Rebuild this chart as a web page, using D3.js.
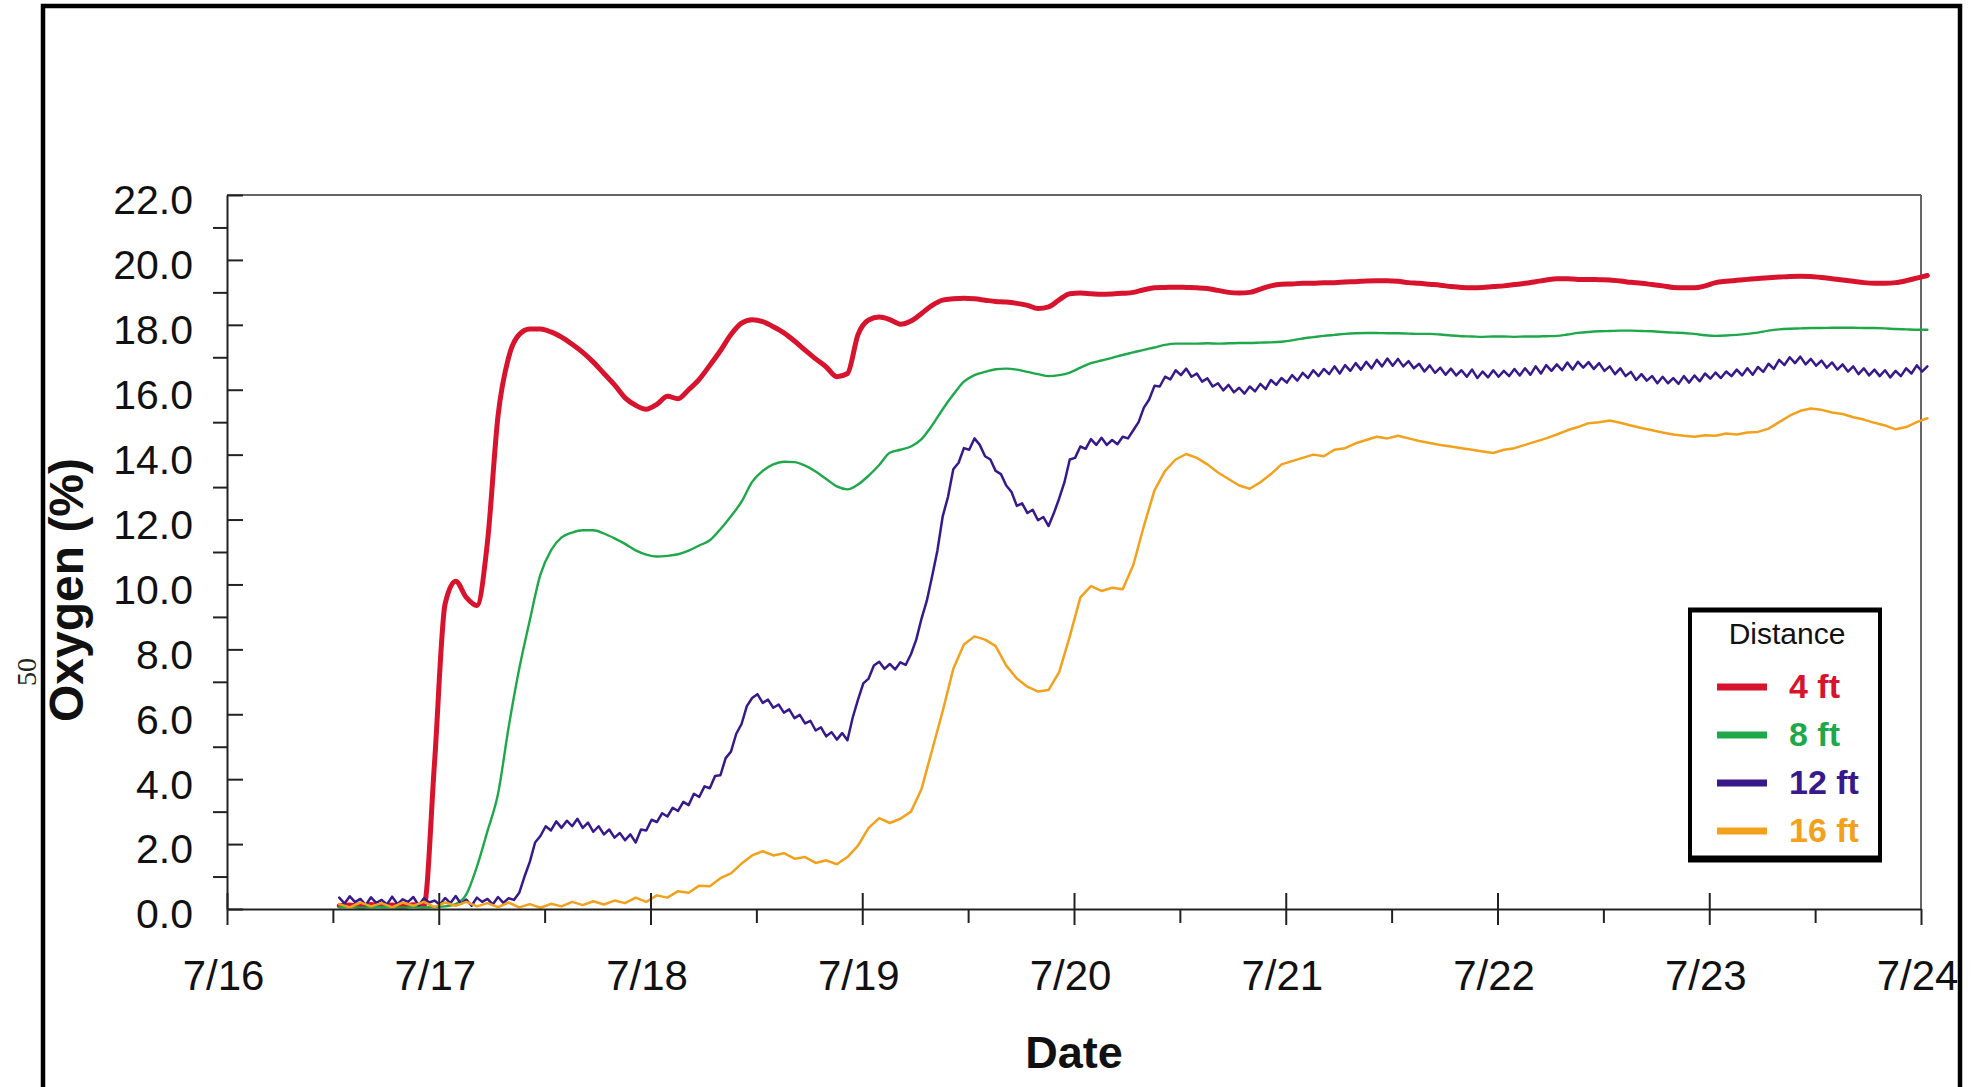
<!DOCTYPE html>
<html>
<head>
<meta charset="utf-8">
<script src="https://cdn.jsdelivr.net/npm/d3@7"></script>
<style>
  html, body { margin: 0; padding: 0; background: #fff; }
  svg { display: block; }
  text { font-family: "Liberation Sans", Arial, Helvetica, sans-serif; }
</style>
</head>
<body>
<svg id="chart" width="1976" height="1087"></svg>
<script>
// Oxygen concentration logged at four distances. Readings start 0.53 day
// after midnight of 7/16; the 12 ft probe was logged twice as often.
const dayLabels = ["7/16", "7/17", "7/18", "7/19", "7/20", "7/21", "7/22", "7/23", "7/24"];
const yMajorTicks = [0, 2, 4, 6, 8, 10, 12, 14, 16, 18, 20, 22];
const yMinorTicks = [1, 3, 5, 7, 9, 11, 13, 15, 17, 19, 21];
const xMinorTicks = [0.5, 1.5, 2.5, 3.5, 4.5, 5.5, 6.5, 7.5];
const firstReadingDay = 0.53;
const readingStepDays = [0.05, 0.05, 0.025, 0.05];

const distances = ["4 ft", "8 ft", "12 ft", "16 ft"];
const seriesColors = ["#d8132d", "#1fa84a", "#37198c", "#f3a11d"];

const o2At4ft = [
  0.10, 0.12, 0.08, 0.14, 0.10, 0.12, 0.08, 0.13, 0.10, 4.5,
  9.4, 10.1, 9.6, 9.35, 11.3, 15.2, 17.0, 17.7, 17.87, 17.87,
  17.78, 17.62, 17.4, 17.15, 16.85, 16.5, 16.15, 15.75, 15.52, 15.4,
  15.55, 15.8, 15.72, 16.0, 16.32, 16.75, 17.2, 17.7, 18.05, 18.16,
  18.1, 17.94, 17.75, 17.5, 17.22, 16.95, 16.7, 16.4, 16.5, 17.7,
  18.15, 18.24, 18.16, 18.02, 18.12, 18.35, 18.6, 18.76, 18.8, 18.82,
  18.8, 18.76, 18.72, 18.7, 18.66, 18.6, 18.5, 18.55, 18.77, 18.96,
  18.98, 18.96, 18.94, 18.95, 18.97, 19.0, 19.08, 19.14, 19.15, 19.16,
  19.15, 19.14, 19.12, 19.06, 19.0, 18.98, 19.0, 19.1, 19.2, 19.25,
  19.26, 19.28, 19.28, 19.3, 19.3, 19.32, 19.33, 19.35, 19.36, 19.36,
  19.34, 19.3, 19.28, 19.25, 19.22, 19.18, 19.15, 19.14, 19.15, 19.18,
  19.2, 19.24, 19.28, 19.33, 19.38, 19.42, 19.42, 19.4, 19.4, 19.39,
  19.38, 19.35, 19.31, 19.28, 19.24, 19.2, 19.15, 19.14, 19.14, 19.2,
  19.3, 19.34, 19.37, 19.4, 19.43, 19.45, 19.47, 19.49, 19.5, 19.49,
  19.46, 19.42, 19.38, 19.34, 19.3, 19.28, 19.28, 19.3, 19.36, 19.44,
  19.52
];

const o2At8ft = [
  0.05, 0.06, 0.04, 0.05, 0.06, 0.05, 0.04, 0.06, 0.05, 0.06,
  0.08, 0.15, 0.45, 1.3, 2.4, 3.55, 5.6, 7.4, 8.9, 10.3,
  11.05, 11.45, 11.6, 11.67, 11.67, 11.57, 11.42, 11.25, 11.05, 10.92,
  10.86, 10.88, 10.93, 11.04, 11.2, 11.36, 11.7, 12.1, 12.55, 13.16,
  13.5, 13.7, 13.78, 13.77, 13.66, 13.48, 13.25, 13.02, 12.93, 13.08,
  13.35, 13.68, 14.06, 14.15, 14.25, 14.48, 14.9, 15.4, 15.85, 16.25,
  16.45, 16.55, 16.63, 16.65, 16.62, 16.55, 16.48, 16.42, 16.45, 16.53,
  16.68, 16.82, 16.9, 16.98, 17.07, 17.15, 17.23, 17.3, 17.38, 17.42,
  17.42, 17.42, 17.43, 17.42, 17.43, 17.44, 17.44, 17.45, 17.46, 17.48,
  17.52, 17.58, 17.62, 17.66, 17.69, 17.72, 17.74, 17.75, 17.75, 17.74,
  17.74, 17.73, 17.72, 17.72, 17.7, 17.67, 17.65, 17.64, 17.63, 17.64,
  17.64, 17.63, 17.64, 17.64, 17.65, 17.66, 17.7, 17.75, 17.78, 17.8,
  17.81, 17.82, 17.82, 17.81, 17.8, 17.78, 17.76, 17.75, 17.72, 17.68,
  17.66, 17.67, 17.69, 17.72, 17.76, 17.82, 17.86, 17.88, 17.89, 17.9,
  17.9, 17.91, 17.91, 17.91, 17.9, 17.9, 17.89, 17.87, 17.86, 17.85,
  17.85
];

const o2At12ft = [
  0.35, 0.17, 0.39, 0.21, 0.31, 0.12, 0.36, 0.19, 0.28, 0.14,
  0.38, 0.15, 0.30, 0.22, 0.37, 0.11, 0.33, 0.20, 0.26, 0.13,
  0.34, 0.18, 0.40, 0.16, 0.29, 0.10, 0.35, 0.22, 0.31, 0.14,
  0.37, 0.19, 0.33, 0.28, 0.5, 1.0, 1.45, 2.05, 2.25, 2.55,
  2.42, 2.7, 2.5, 2.72, 2.55, 2.78, 2.5, 2.66, 2.38, 2.55,
  2.3, 2.45, 2.2, 2.34, 2.12, 2.3, 2.05, 2.45, 2.42, 2.75,
  2.68, 2.95, 2.85, 3.12, 3.02, 3.3, 3.2, 3.55, 3.45, 3.78,
  3.72, 4.1, 4.12, 4.65, 4.85, 5.4, 5.7, 6.25, 6.5, 6.62,
  6.35, 6.45, 6.2, 6.3, 6.05, 6.15, 5.88, 5.98, 5.72, 5.8,
  5.5, 5.6, 5.32, 5.45, 5.22, 5.42, 5.2, 5.9, 6.45, 6.95,
  7.1, 7.5, 7.62, 7.4, 7.55, 7.38, 7.6, 7.52, 7.85, 8.3,
  8.95, 9.5, 10.25, 11.05, 12.1, 12.7, 13.55, 13.75, 14.2, 14.15,
  14.5, 14.3, 13.95, 13.85, 13.5, 13.4, 13.05, 12.85, 12.42, 12.5,
  12.2, 12.3, 11.98, 12.08, 11.8, 12.2, 12.65, 13.15, 13.85, 13.9,
  14.25, 14.18, 14.48, 14.3, 14.52, 14.3, 14.45, 14.32, 14.55, 14.5,
  14.75, 15.0, 15.45, 15.7, 16.12, 16.1, 16.4, 16.32, 16.6, 16.45,
  16.65, 16.4, 16.5, 16.25, 16.35, 16.1, 16.2, 15.98, 16.15, 15.92,
  16.06, 15.88, 16.1, 15.95, 16.18, 16.02, 16.3, 16.15, 16.36, 16.22,
  16.45, 16.28, 16.52, 16.36, 16.6, 16.42, 16.64, 16.48, 16.72, 16.5,
  16.76, 16.58, 16.82, 16.62, 16.86, 16.66, 16.92, 16.72, 16.96, 16.74,
  16.95, 16.72, 16.88, 16.66, 16.8, 16.56, 16.75, 16.52, 16.68, 16.46,
  16.65, 16.44, 16.6, 16.4, 16.62, 16.36, 16.56, 16.38, 16.6, 16.4,
  16.58, 16.42, 16.64, 16.44, 16.66, 16.46, 16.72, 16.5, 16.76, 16.58,
  16.78, 16.6, 16.84, 16.62, 16.86, 16.68, 16.85, 16.64, 16.82, 16.58,
  16.72, 16.48, 16.66, 16.42, 16.55, 16.3, 16.48, 16.28, 16.42, 16.2,
  16.4, 16.2, 16.36, 16.18, 16.42, 16.22, 16.44, 16.26, 16.5, 16.34,
  16.53, 16.36, 16.56, 16.42, 16.62, 16.44, 16.66, 16.46, 16.7, 16.55,
  16.8, 16.64, 16.92, 16.76, 17.0, 16.82, 17.02, 16.78, 16.95, 16.74,
  16.9, 16.68, 16.84, 16.62, 16.78, 16.56, 16.72, 16.48, 16.66, 16.44,
  16.62, 16.42, 16.6, 16.38, 16.58, 16.42, 16.66, 16.5, 16.75, 16.56,
  16.72
];

const o2At16ft = [
  0.15, 0.05, 0.2, 0.08, 0.18, 0.05, 0.2, 0.1, 0.22, 0.06,
  0.2, 0.1, 0.22, 0.08, 0.18, 0.06, 0.2, 0.05, 0.15, 0.04,
  0.16, 0.08, 0.22, 0.12, 0.24, 0.14, 0.26, 0.18, 0.35, 0.22,
  0.42, 0.35, 0.55, 0.5, 0.72, 0.7, 0.95, 1.1, 1.4, 1.65,
  1.78, 1.65, 1.72, 1.55, 1.6, 1.42, 1.5, 1.38, 1.6, 1.95,
  2.5, 2.8, 2.65, 2.78, 3.0, 3.7, 4.9, 6.1, 7.4, 8.15,
  8.4, 8.3, 8.1, 7.5, 7.1, 6.85, 6.7, 6.75, 7.3, 8.4,
  9.6, 9.95, 9.8, 9.9, 9.85, 10.6, 11.8, 12.9, 13.5, 13.85,
  14.02, 13.9, 13.7, 13.45, 13.25, 13.05, 12.95, 13.15, 13.4, 13.7,
  13.8, 13.9, 14.0, 13.95, 14.15, 14.2, 14.35, 14.45, 14.55, 14.5,
  14.58, 14.5, 14.42, 14.36, 14.3, 14.25, 14.2, 14.15, 14.1, 14.05,
  14.15, 14.2, 14.3, 14.4, 14.5, 14.62, 14.75, 14.85, 14.97, 15.0,
  15.05, 14.98, 14.9, 14.82, 14.75, 14.68, 14.62, 14.58, 14.55, 14.6,
  14.58, 14.65, 14.62, 14.68, 14.7, 14.8, 15.0, 15.2, 15.35, 15.42,
  15.38, 15.3, 15.25, 15.15, 15.08, 14.98, 14.9, 14.78, 14.85, 15.0,
  15.12
];

const seriesValues = [o2At4ft, o2At8ft, o2At12ft, o2At16ft];
const lineWidths = [5, 2.4, 2.5, 2.5];
const lineCurves = [d3.curveMonotoneX, d3.curveMonotoneX, d3.curveLinear, d3.curveLinear];

const svg = d3.select("#chart");
const H = 1087;
const plot = { left: 227, right: 1921, top: 195, bottom: 909 };

const x = d3.scaleLinear().domain([0, 8]).range([plot.left, plot.right]);
const y = d3.scaleLinear().domain([0, 22]).range([plot.bottom, plot.top]);

// page frame (runs off the bottom edge of the page)
svg.append("rect")
  .attr("x", 43).attr("y", 6)
  .attr("width", 1917).attr("height", H + 20)
  .attr("fill", "none").attr("stroke", "#000").attr("stroke-width", 4.5);

// page number in the margin
svg.append("text")
  .attr("transform", "translate(36,672) rotate(-90)")
  .attr("text-anchor", "middle")
  .style("font-family", "'Liberation Serif', 'Times New Roman', serif")
  .style("font-size", "28px")
  .attr("fill", "#222")
  .text("50");

// plot frame: top and right edges
svg.append("line")
  .attr("x1", plot.left).attr("x2", plot.right)
  .attr("y1", plot.top).attr("y2", plot.top)
  .attr("stroke", "#666").attr("stroke-width", 2);
svg.append("line")
  .attr("x1", plot.right).attr("x2", plot.right)
  .attr("y1", plot.top).attr("y2", plot.bottom)
  .attr("stroke", "#666").attr("stroke-width", 2);

// series lines
const lineLayer = svg.append("g").attr("fill", "none")
  .attr("stroke-linejoin", "round").attr("stroke-linecap", "round");
seriesValues.forEach((vals, k) => {
  const line = d3.line()
    .curve(lineCurves[k])
    .x((d, i) => x(firstReadingDay + i * readingStepDays[k]))
    .y(d => y(d));
  lineLayer.append("path")
    .datum(vals)
    .attr("d", line)
    .attr("stroke", seriesColors[k])
    .attr("stroke-width", lineWidths[k]);
});

// y axis: major ticks cross the axis, minor ticks point outward
const yAxis = svg.append("g")
  .attr("transform", `translate(${plot.left},0)`)
  .call(d3.axisLeft(y).tickValues(yMajorTicks).tickSize(17).tickSizeOuter(0)
    .tickFormat(d3.format(".1f")));
yAxis.selectAll(".tick line").attr("x2", 16);
yAxis.selectAll(".tick text")
  .attr("x", -34).attr("dy", "0.46em")
  .style("font-size", "41px").attr("fill", "#111");
svg.append("g")
  .attr("transform", `translate(${plot.left},0)`)
  .call(d3.axisLeft(y).tickValues(yMinorTicks).tickSize(14).tickFormat(() => ""))
  .call(g => g.select(".domain").remove());

// x axis
const xAxis = svg.append("g")
  .attr("transform", `translate(0,${plot.bottom})`)
  .call(d3.axisBottom(x).tickValues(d3.range(dayLabels.length)).tickSize(16).tickSizeOuter(0)
    .tickFormat(i => dayLabels[i]));
xAxis.selectAll(".tick line").attr("y1", -16);
xAxis.selectAll(".tick text")
  .attr("y", 81).attr("dy", 0).attr("dx", -4)
  .style("font-size", "42px").attr("fill", "#111");
svg.append("g")
  .attr("transform", `translate(0,${plot.bottom})`)
  .call(d3.axisBottom(x).tickValues(xMinorTicks).tickSize(14).tickFormat(() => ""))
  .call(g => g.select(".domain").remove());

svg.selectAll(".domain, .tick line").attr("stroke", "#222").attr("stroke-width", 2);
xAxis.select(".tick:last-of-type line").attr("y1", 0);

// axis titles
svg.append("text")
  .attr("x", (plot.left + plot.right) / 2).attr("y", 1068)
  .attr("text-anchor", "middle")
  .style("font-size", "45px").style("font-weight", "bold").attr("fill", "#111")
  .text("Date");
svg.append("text")
  .attr("transform", "translate(83,590) rotate(-90)")
  .attr("text-anchor", "middle")
  .style("font-size", "48px").style("font-weight", "bold").attr("fill", "#111")
  .text("Oxygen (%)");

// legend
const lg = svg.append("g");
lg.append("rect")
  .attr("x", 1690).attr("y", 610).attr("width", 190).attr("height", 250)
  .attr("fill", "#fff").attr("stroke", "#000").attr("stroke-width", 4);
lg.append("line").attr("x1", 1688).attr("x2", 1882).attr("y1", 610).attr("y2", 610)
  .attr("stroke", "#000").attr("stroke-width", 5);
lg.append("line").attr("x1", 1688).attr("x2", 1882).attr("y1", 859).attr("y2", 859)
  .attr("stroke", "#000").attr("stroke-width", 7);
lg.append("text")
  .attr("x", 1787).attr("y", 644).attr("text-anchor", "middle")
  .style("font-size", "30px").attr("fill", "#111")
  .text("Distance");
distances.forEach((label, k) => {
  const cy = 687 + k * 48;
  lg.append("line")
    .attr("x1", 1717).attr("x2", 1767).attr("y1", cy).attr("y2", cy)
    .attr("stroke", seriesColors[k]).attr("stroke-width", 7);
  lg.append("text")
    .attr("x", 1789).attr("y", cy + 11)
    .style("font-size", "34px").style("font-weight", "bold")
    .attr("fill", seriesColors[k])
    .text(label);
});
</script>
</body>
</html>
